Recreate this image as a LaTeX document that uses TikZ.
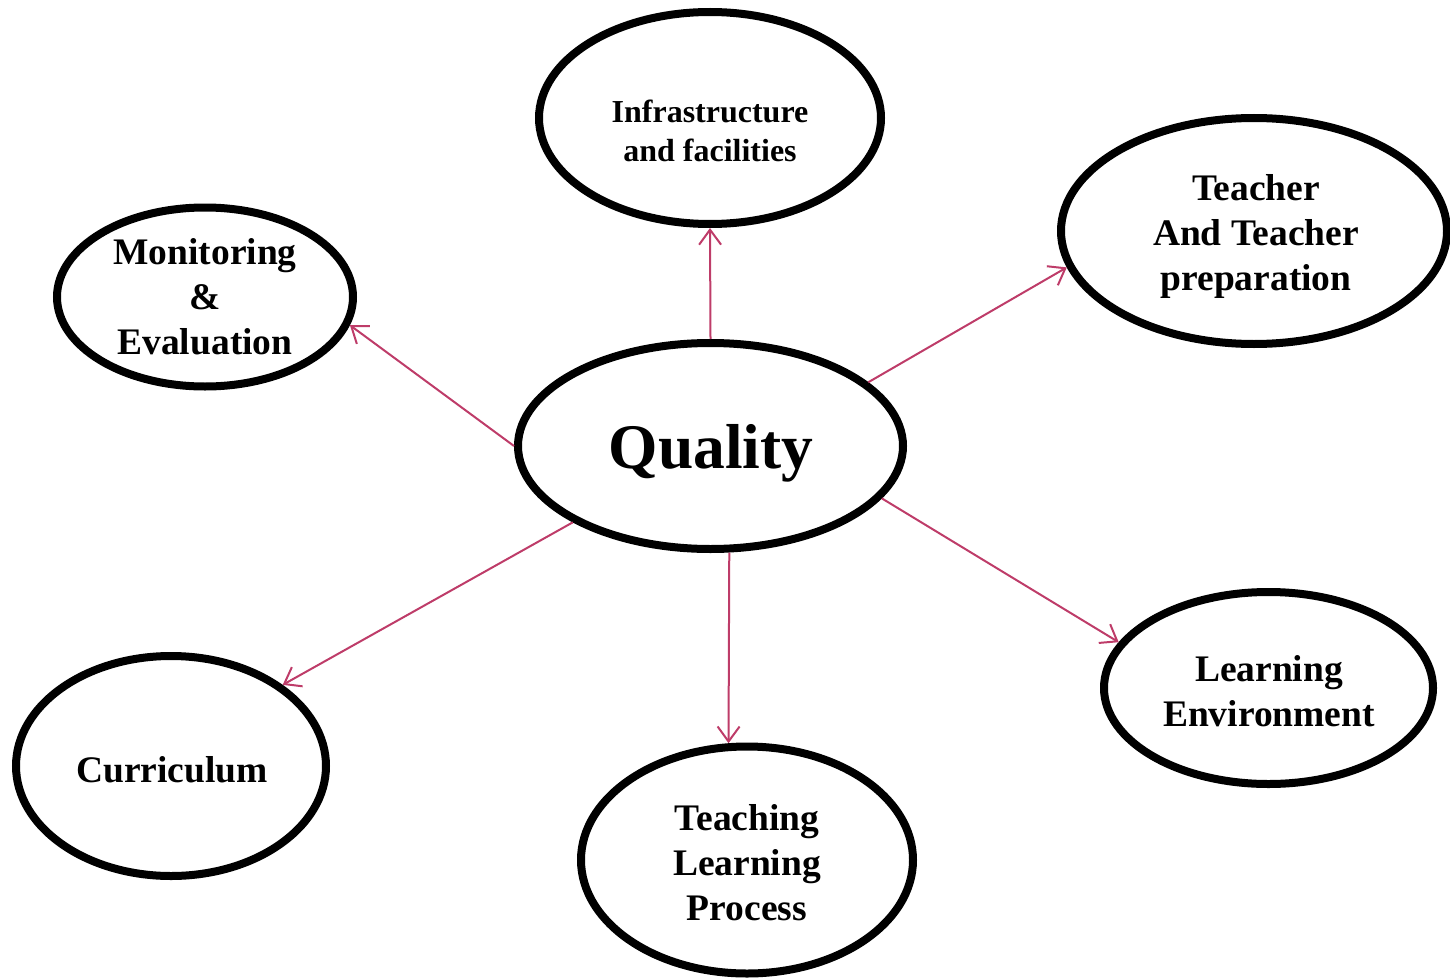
\documentclass[tikz,border=0pt]{standalone}
\usepackage{fontspec}
\setmainfont{Liberation Serif}
\usetikzlibrary{shapes.geometric,arrows.meta}

\definecolor{arrowred}{RGB}{190,60,105}

\tikzset{
  bubble/.style={draw=black, line width=8pt, ellipse, inner sep=0pt},
  bubbletext/.style={inner sep=0pt, align=center, font=\fontsize{37.5}{45}\selectfont\bfseries},
  link/.style={draw=arrowred, line width=2pt, -{Straight Barb[length=15pt,width=22pt]}}
}

\begin{document}
\begin{tikzpicture}[x=1pt,y=1pt,yscale=-1,xscale=1]
		% Set diagram frame to the size of the reference
		\useasboundingbox (0,0) rectangle (1450,979);

		% The central ellipse "Quality"
		\node[bubble, minimum width=385pt, minimum height=206pt] (quality) at (710.5,446) {};
		\node[bubbletext, font=\fontsize{63.5}{70}\selectfont\bfseries] (quality-txt) at (711,453) {Quality};

		% The outer ellipses
		\node[bubble, minimum width=342pt, minimum height=212pt] (infra) at (710,118) {};
		\node[bubble, minimum width=386pt, minimum height=226pt] (teacher) at (1254,231) {};
		\node[bubble, minimum width=296pt, minimum height=179pt] (monitor) at (205,297) {};
		\node[bubble, minimum width=310pt, minimum height=220pt] (curric) at (171,766) {};
		\node[bubble, minimum width=332pt, minimum height=227pt] (process) at (747,860) {};
		\node[bubble, minimum width=329pt, minimum height=192pt] (environ) at (1268.5,688) {};

		% The texts inside the outer ellipses
		\node[bubbletext, font=\fontsize{32}{39}\selectfont\bfseries] (infra-txt) at (710,131) {Infrastructure\\and facilities};
		\node[bubbletext] (teacher-txt) at (1256,236) {Teacher\\And Teacher\\preparation};
		\node[bubbletext] (monitor-txt) at (205,297) {Monitoring\\\&\\Evaluation};
		\node[bubbletext] (curric-txt) at (172,770) {Curriculum};
		\node[bubbletext] (process-txt) at (747,862.5) {Teaching\\Learning\\Process};
		\node[bubbletext] (environ-txt) at (1269,691) {Learning\\Environment};

		% The arrows going out of "Quality"
		\draw[link] (quality.north) -- (infra.south);
		\draw[link] (quality.22) -- (teacher.191);
		\draw[link] (quality.180) -- (monitor.349);
		\draw[link] (quality.209) -- (curric.36);
		\draw[link] (quality.280) -- (process.99);
		\draw[link] (quality.343) -- (environ.163);
	\end{tikzpicture}
\end{document}
